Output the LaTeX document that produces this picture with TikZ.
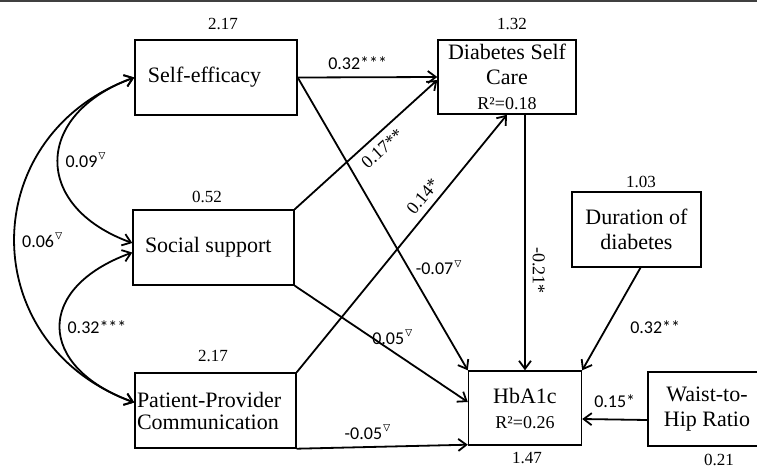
\documentclass[tikz,border=0pt]{standalone}
\usepackage{amssymb}
\usepackage{fontspec}
\setmainfont{Liberation Serif}
\newfontfamily\lblfont{Carlito}
\usetikzlibrary{arrows.meta}
\newcommand{\ns}{$^{\triangledown}$}

\begin{document}
\begin{tikzpicture}[x=0.5pt, y=0.5pt,
    >={Straight Barb[length=4pt,width=6pt]},
    box/.style={draw, line width=0.7pt, inner sep=0pt, align=center, minimum height=37.5pt, font=\fontsize{11}{12.5}\selectfont},
    var/.style={font=\fontsize{8.5}{10}\selectfont},
    coef/.style={font=\lblfont\fontsize{9}{10}\selectfont},
    scoef/.style={font=\fontsize{9}{10}\selectfont},
    eff/.style={->, line width=0.9pt},
    cov/.style={<->, line width=0.9pt}]

    \useasboundingbox (0,0) rectangle (757,-467);
    \draw[line width=1pt, black!75] (0,-1) -- (757,-1);

    % Variablen
    \node[box, minimum width=81pt] (se) at (216,-77.5) {\makebox[68pt][l]{Self-efficacy}};
    \node[box, minimum width=80.5pt] (ss) at (213.5,-247.5) {\makebox[68.5pt][l]{Social support}};
    \node[box, text width=78.5pt, inner xsep=1pt, align=left] (ppc) at (215.5,-410.5) {Patient-Provider\\[-1.5pt]Communication};
    \node[box, minimum width=69pt, minimum height=37pt] (dsc) at (507,-77) {Diabetes Self\\Care\\{\fontsize{9}{10}\selectfont R²=0.18}};
    \node[box, minimum width=64.5pt] (dur) at (636.5,-229.5) {Duration of\\diabetes};
    \node[box, minimum width=56.5pt, minimum height=37pt] (hba) at (525,-408) {HbA1c\\{\fontsize{9}{10}\selectfont R²=0.26}};
    \node[box, minimum width=59pt, minimum height=37pt] (whr) at (707,-409) {Waist-to-\\Hip Ratio};

    % Varianzen
    \node[var] (vse) at (223,-24) {2.17};
    \node[var] (vss) at (207,-197) {0.52};
    \node[var] (vppc) at (213,-356) {2.17};
    \node[var] (vdsc) at (512,-24) {1.32};
    \node[var] (vdur) at (641,-182) {1.03};
    \node[var] (vhba) at (527,-458) {1.47};
    \node[var] (vwhr) at (719,-460) {0.21};

    % Pfade
    \draw[eff] (se.east) -- (dsc.west) node[coef, pos=0.43, above] (c1) {0.32***};
    \draw[eff] (se.east) -- (hba.north west) node[coef, pos=0.65, right] (c2) {-0.07\ns};
    \draw[eff] (ss.north east) -- ([yshift=-1.5pt]dsc.west) node[scoef, sloped, pos=0.55, below] (c3) {0.17**};
    \draw[eff] (ss.south east) -- ([yshift=3pt]hba.west) node[coef, pos=0.57, above] (c4) {0.05\ns};
    \draw[eff] (ppc.north east) -- (dsc.south) node[scoef, sloped, pos=0.65, above] (c5) {0.14*};
    \draw[eff] (ppc.south east) -- ([yshift=0.5pt]hba.south west) node[coef, pos=0.42, above] (c6) {-0.05\ns};
    \draw[eff] (hba.north |- dsc.south) -- (hba.north) node[scoef, pos=0.61, rotate=-90, anchor=south] (c7) {-0.21*};
    \draw[eff] ([xshift=2pt]dur.south) -- (hba.north east) node[coef, pos=0.58, right=8pt] (c8) {0.32**};
    \draw[eff] ([yshift=-5.5pt]whr.west) -- ([yshift=-5.5pt]hba.east) node[coef, midway, above=2pt] (c9) {0.15*};

    % Kovarianzen
    \draw[cov] (se.west) to[out=200, in=160, looseness=1.65] node[coef, pos=0.5, right] (k1) {0.09\ns} ([yshift=2.25pt]ss.west);
    \draw[cov] ([yshift=-2.5pt]ss.west) to[out=200, in=160, looseness=1.77] node[coef, pos=0.5, right] (k2) {0.32***} ([yshift=4pt]ppc.west);
    \draw[cov] (se.west) to[out=200, in=160, looseness=1.34] node[coef, pos=0.5, right] (k3) {0.06\ns} ([yshift=4pt]ppc.west);
\end{tikzpicture}
\end{document}
